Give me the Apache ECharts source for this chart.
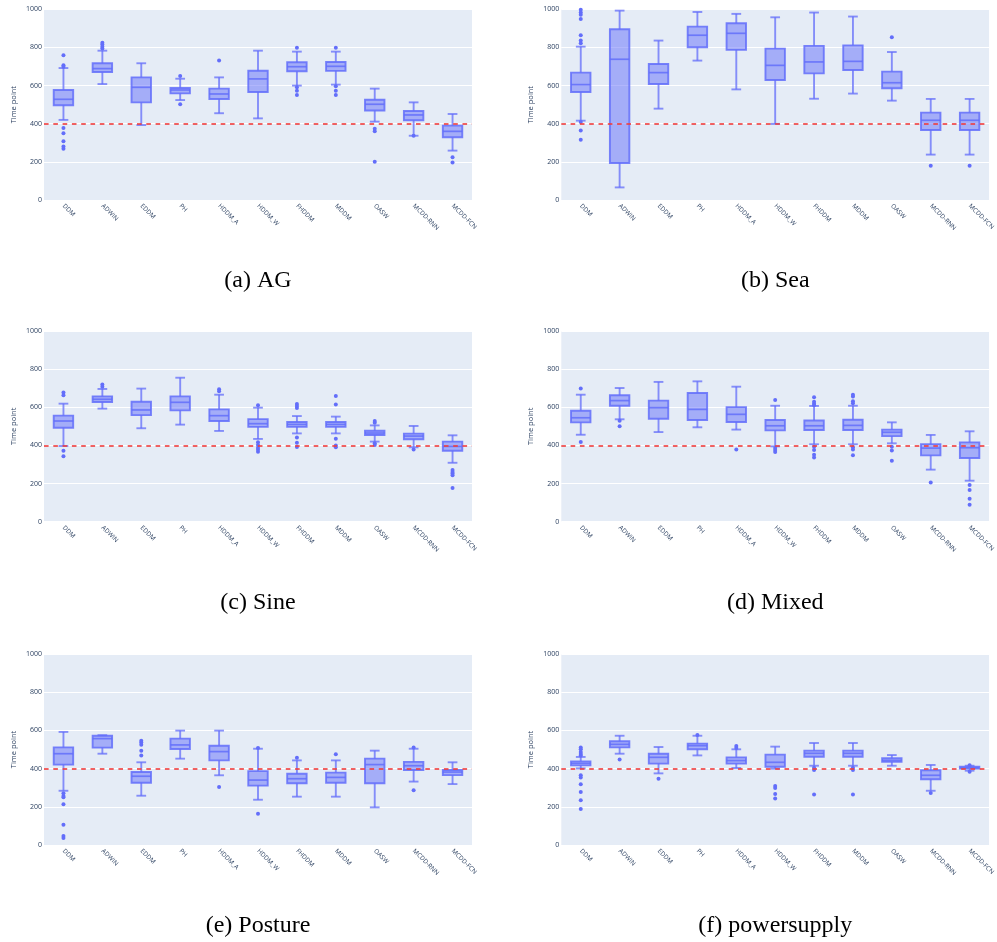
<!DOCTYPE html>
<html>
<head>
<meta charset="utf-8">
<script src="https://cdn.jsdelivr.net/npm/echarts@6/dist/echarts.min.js"></script>
<style>
html,body{margin:0;padding:0;background:#fff;}
#chart{width:997px;height:942px;}
</style>
</head>
<body>
<div id="chart"></div>
<script>
const categories = ['DDM','ADWIN','EDDM','PH','HDDM_A','HDDM_W','FHDDM','MDDM','OASW','MCDD-RNN','MCDD-FCN'];
const yTicks = [0, 200, 400, 600, 800, 1000];
const threshold = 400;

// (a) AG
const agLow  = [420,608,393,524,455,428,600,605,411,337,259];
const agQ1   = [497,671,512,559,530,566,675,677,469,418,329];
const agMed  = [528,689,591,577,556,635,699,701,502,446,360];
const agQ3   = [577,717,643,587,584,678,722,724,526,467,390];
const agHigh = [692,783,717,636,643,783,778,778,584,512,451];
const agOut  = [[759,706,699,378,350,308,280,269],[825,815,804,794],[],[650,502],[731],[],[799,591,573,551],[799,596,573,551],[374,360,201],[337],[224,196]];

// (b) Sea
const seaLow  = [416,66,479,731,580,399,531,558,521,238,238];
const seaQ1   = [566,194,608,801,787,629,664,682,586,367,367];
const seaMed  = [605,738,668,864,874,706,724,727,615,418,418];
const seaQ3   = [668,895,713,909,927,794,808,811,673,458,458];
const seaHigh = [804,993,836,986,976,958,983,962,776,530,530];
const seaOut  = [[997,983,972,949,864,836,822,409,364,316],[],[],[],[],[],[],[],[853],[180],[180]];

// (c) Sine
const sineLow  = [397,593,490,509,476,434,463,463,420,390,309];
const sineQ1   = [493,628,559,584,528,497,497,497,455,432,372];
const sineMed  = [528,642,586,626,556,514,510,510,465,449,395];
const sineQ3   = [556,657,629,657,589,538,523,523,477,462,420];
const sineHigh = [619,696,698,755,666,598,554,551,505,502,453];
const sineOut  = [[677,663,372,343],[719,708],[],[],[694,684],[610,416,402,388,378,367],[617,607,596,441,414,392],[659,614,435,400,390],[528,519,411,402],[379],[271,260,253,243,177]];

// (d) Mixed
const mixLow  = [456,537,470,495,483,395,406,406,411,273,215];
const mixQ1   = [521,608,540,533,523,479,481,481,449,348,334];
const mixMed  = [545,635,598,589,563,503,503,505,469,386,388];
const mixQ3   = [582,663,635,675,601,533,531,535,483,407,416];
const mixHigh = [666,701,733,736,708,608,607,608,521,455,474];
const mixOut  = [[699,418],[530,500],[],[],[379],[638,386,376,365],[652,629,619,610,393,376,351,337],[666,656,631,621,390,379,348],[393,374,320],[206],[192,166,121,89]];

// (e) Posture
const posLow  = [284,478,258,452,365,237,253,253,197,332,319];
const posQ1   = [421,510,326,503,443,311,323,326,323,393,366];
const posMed  = [478,557,360,524,489,340,347,354,421,415,382];
const posQ3   = [511,572,382,557,520,387,373,379,452,435,393];
const posHigh = [592,575,433,599,599,504,443,443,494,504,433];
const posOut  = [[271,257,250,213,106,47,37],[],[546,536,525,494,469],[],[304],[508,164],[457],[475],[],[510,286],[]];

// (f) powersupply
const psLow  = [401,478,375,469,403,400,415,415,415,284,389];
const psQ1   = [417,511,426,501,426,410,462,462,435,344,400];
const psMed  = [428,527,459,520,442,433,480,480,443,365,405];
const psQ3   = [438,543,478,531,459,473,494,494,454,391,410];
const psHigh = [461,572,513,572,501,515,534,534,471,419,415];
const psOut  = [[511,501,487,476,469,365,354,318,277,234,188],[447],[347],[576],[518,508],[309,298,267,244],[405,393,265],[405,393,265],[],[272],[384,417]];

const panels = [
  {title:'(a) AG', low:agLow, q1:agQ1, med:agMed, q3:agQ3, high:agHigh, out:agOut},
  {title:'(b) Sea', low:seaLow, q1:seaQ1, med:seaMed, q3:seaQ3, high:seaHigh, out:seaOut},
  {title:'(c) Sine', low:sineLow, q1:sineQ1, med:sineMed, q3:sineQ3, high:sineHigh, out:sineOut},
  {title:'(d) Mixed', low:mixLow, q1:mixQ1, med:mixMed, q3:mixQ3, high:mixHigh, out:mixOut},
  {title:'(e) Posture', low:posLow, q1:posQ1, med:posMed, q3:posQ3, high:posHigh, out:posOut},
  {title:'(f) powersupply', low:psLow, q1:psQ1, med:psMed, q3:psQ3, high:psHigh, out:psOut}
];

const gridPos = [
  {left:44, top:9.3, width:428, height:190.7},
  {left:561.3, top:9.3, width:428, height:190.7},
  {left:44, top:331, width:428, height:190.7},
  {left:561.3, top:331, width:428, height:190.7},
  {left:44, top:654, width:428, height:191},
  {left:561.3, top:654, width:428, height:191}
];
const captionY = [281, 281, 603, 603, 926, 926];

const BOX = '#636efa';
const FILL = 'rgba(99,110,250,0.5)';
const WHISK = 'rgba(99,110,250,0.75)';
const FONT_COLOR = '#2a3f5f';

function renderBox(params, api) {
  const x = api.value(0);
  const pLow = api.coord([x, api.value(1)]);
  const pQ1 = api.coord([x, api.value(2)]);
  const pMed = api.coord([x, api.value(3)]);
  const pQ3 = api.coord([x, api.value(4)]);
  const pHigh = api.coord([x, api.value(5)]);
  const band = api.size([1, 0])[0];
  const bw = band * 0.5;
  const cw = bw * 0.5;
  const cx = pMed[0];
  const ls = {stroke: WHISK, lineWidth: 1.9};
  return {
    type: 'group',
    children: [
      {type:'line', shape:{x1:cx, y1:pQ3[1], x2:cx, y2:pHigh[1]}, style:ls},
      {type:'line', shape:{x1:cx, y1:pQ1[1], x2:cx, y2:pLow[1]}, style:ls},
      {type:'line', shape:{x1:cx-cw/2, y1:pHigh[1], x2:cx+cw/2, y2:pHigh[1]}, style:ls},
      {type:'line', shape:{x1:cx-cw/2, y1:pLow[1], x2:cx+cw/2, y2:pLow[1]}, style:ls},
      {type:'rect', shape:{x:cx-bw/2, y:pQ3[1], width:bw, height:pQ1[1]-pQ3[1]}, style:{fill:FILL, stroke:'rgba(99,110,250,0.85)', lineWidth:1.9}},
      {type:'line', shape:{x1:cx-bw/2, y1:pMed[1], x2:cx+bw/2, y2:pMed[1]}, style:{stroke:'rgba(99,110,250,0.85)', lineWidth:1.7}}
    ]
  };
}

const grid = [], xAxis = [], yAxis = [], series = [], graphic = [];
panels.forEach((p, i) => {
  grid.push(Object.assign({show:true, backgroundColor:'#E5ECF6', borderWidth:0}, gridPos[i]));
  xAxis.push({
    type:'category', gridIndex:i, data:categories, boundaryGap:true,
    axisLine:{show:false}, axisTick:{show:false}, splitLine:{show:false},
    axisLabel:{rotate:-45, margin:5, fontSize:6.3, color:FONT_COLOR, fontFamily:'Open Sans', interval:0}
  });
  yAxis.push({
    type:'value', gridIndex:i, min:yTicks[0], max:yTicks[yTicks.length-1], interval:200,
    name:'Time point', nameLocation:'middle', nameGap:26,
    nameTextStyle:{fontSize:7.5, color:FONT_COLOR, fontFamily:'Open Sans'},
    axisLine:{show:false}, axisTick:{show:false},
    axisLabel:{margin:2, fontSize:7, color:FONT_COLOR, fontFamily:'Open Sans', formatter: v => String(v)},
    splitLine:{show:true, lineStyle:{color:'#ffffff', width:1}}
  });
  const boxData = categories.map((c, k) => [k, p.low[k], p.q1[k], p.med[k], p.q3[k], p.high[k]]);
  series.push({
    type:'custom', xAxisIndex:i, yAxisIndex:i, renderItem:renderBox,
    encode:{x:0, y:[1,2,3,4,5]}, data:boxData, z:2
  });
  const outData = [];
  p.out.forEach((vals, k) => vals.forEach(v => outData.push([k, v])));
  series.push({
    type:'scatter', xAxisIndex:i, yAxisIndex:i, data:outData, symbolSize:4,
    itemStyle:{color:BOX, opacity:1}, z:3,
    markLine:{
      silent:true, symbol:['none','none'], label:{show:false},
      lineStyle:{color:'rgba(239,60,60,0.8)', width:1.8, type:[4.6,4.7]},
      data:[{yAxis:threshold}], z:5, animation:false
    }
  });
  graphic.push({
    type:'text', x:gridPos[i].left + gridPos[i].width/2, y:captionY[i],
    style:{text:p.title, textAlign:'center', textVerticalAlign:'middle',
      fontSize:24, fontFamily:'Liberation Serif', fill:'#000'}
  });
});

const chart = echarts.init(document.getElementById('chart'), null, {renderer:'canvas'});
chart.setOption({animation:false, backgroundColor:'#ffffff', grid, xAxis, yAxis, series, graphic});
</script>
</body>
</html>
